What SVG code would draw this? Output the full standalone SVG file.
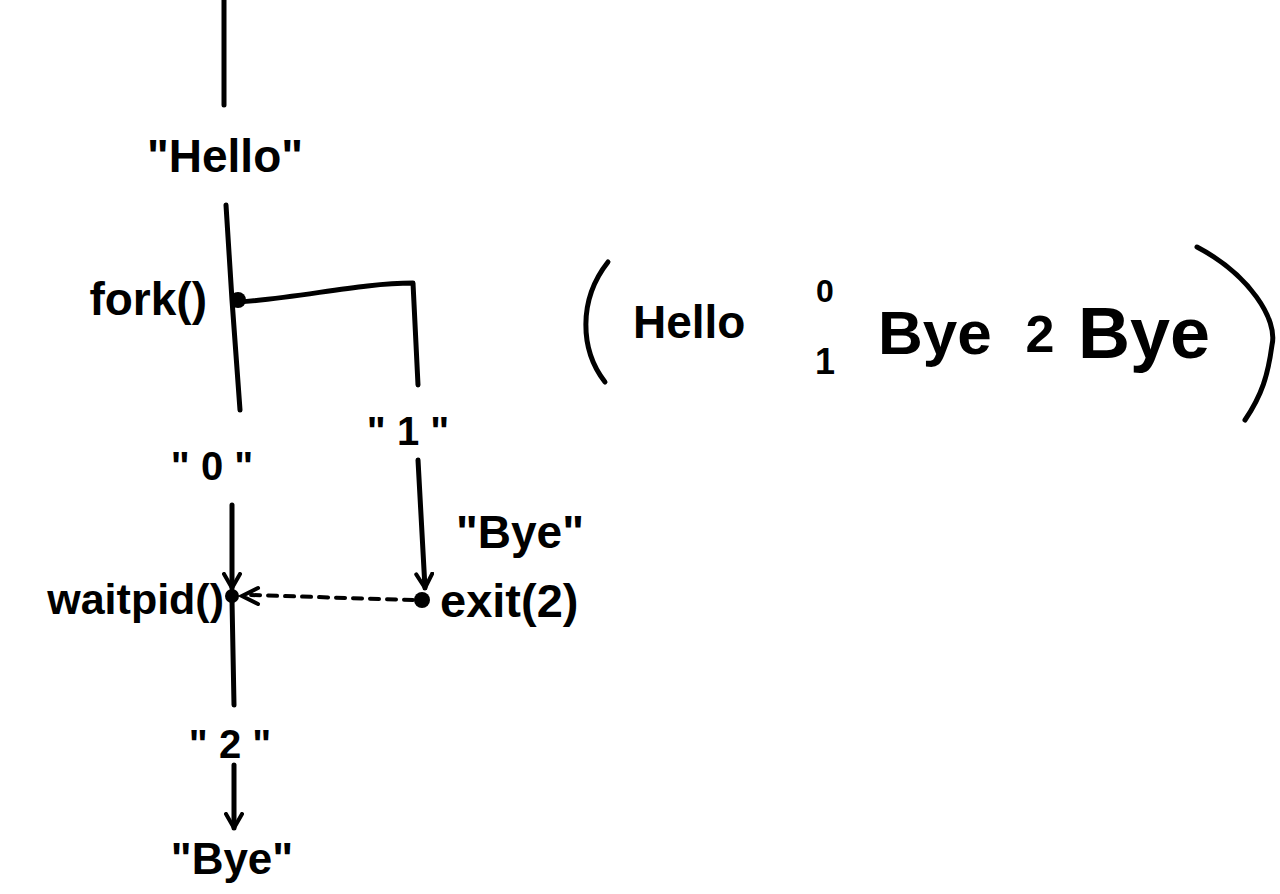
<svg xmlns="http://www.w3.org/2000/svg" width="1280" height="894" viewBox="0 0 1280 894">
<defs>
<style>
.ln{stroke:#000;stroke-width:5;fill:none;stroke-linecap:round;stroke-linejoin:round}
.ds{stroke:#000;stroke-width:4;fill:none;stroke-dasharray:9 8;stroke-linecap:round}
.t{font-family:"Liberation Sans",Arial,sans-serif;fill:#000;font-weight:bold}
</style>
<marker id="ah" viewBox="0 0 20 20" refX="16" refY="10" markerWidth="20" markerHeight="20" markerUnits="userSpaceOnUse" orient="auto">
<path d="M2,2 L16,10 L2,18" fill="none" stroke="#000" stroke-width="4" stroke-linecap="round" stroke-linejoin="round"/>
</marker>
</defs>
<rect width="1280" height="894" fill="#fff"/>
<g id="connectors">
<path class="ln" d="M224,0 L224,105"/>
<path class="ln" d="M226,205 L232,300 L240,410"/>
<path class="ln" d="M238,302 C300,298 360,283 413,283 L418,385"/>
<path class="ln" d="M232,505 L232,588" marker-end="url(#ah)"/>
<path class="ln" d="M232,600 L234,705"/>
<path class="ln" d="M418,460 L425,588" marker-end="url(#ah)"/>
<path class="ds" d="M413,600 L250,595"/>
<path d="M258,588 L242,596 L258,604" fill="none" stroke="#000" stroke-width="4" stroke-linecap="round"/>
<path class="ln" d="M234,765 L234,828" marker-end="url(#ah)"/>
</g>
<g id="hello"><text class="t" x="225" y="172" text-anchor="middle" font-size="46">"Hello"</text></g>
<g id="fork"><circle cx="238" cy="300" r="8"/><text class="t" x="207" y="315" text-anchor="end" font-size="46">fork()</text></g>
<g id="zero"><text class="t" x="212" y="480" text-anchor="middle" font-size="40">" 0 "</text></g>
<g id="one"><text class="t" x="408" y="445" text-anchor="middle" font-size="40">" 1 "</text></g>
<g id="bye1"><text class="t" x="520" y="548" text-anchor="middle" font-size="46">"Bye"</text></g>
<g id="waitpid"><circle cx="232" cy="596" r="7"/><text class="t" x="224" y="614" text-anchor="end" font-size="43">waitpid()</text></g>
<g id="exit"><circle cx="422" cy="600" r="8"/><text class="t" x="440" y="617" font-size="47">exit(2)</text></g>
<g id="two"><text class="t" x="230" y="758" text-anchor="middle" font-size="40">" 2 "</text></g>
<g id="bye2"><text class="t" x="232" y="874" text-anchor="middle" font-size="44">"Bye"</text></g>
<g id="output">
<path class="ln" d="M608,262 C578,300 580,350 605,382"/>
<text class="t" x="633" y="338" font-size="46">Hello</text>
<text class="t" x="825" y="302" text-anchor="middle" font-size="32">0</text>
<text class="t" x="825" y="374" text-anchor="middle" font-size="36">1</text>
<text class="t" x="878" y="354" font-size="62">Bye</text>
<text class="t" x="1040" y="352" text-anchor="middle" font-size="52">2</text>
<text class="t" x="1078" y="358" font-size="72">Bye</text>
<path class="ln" d="M1197,247 C1250,275 1278,320 1272,345 C1268,375 1262,395 1245,420"/>
</g>
</svg>
